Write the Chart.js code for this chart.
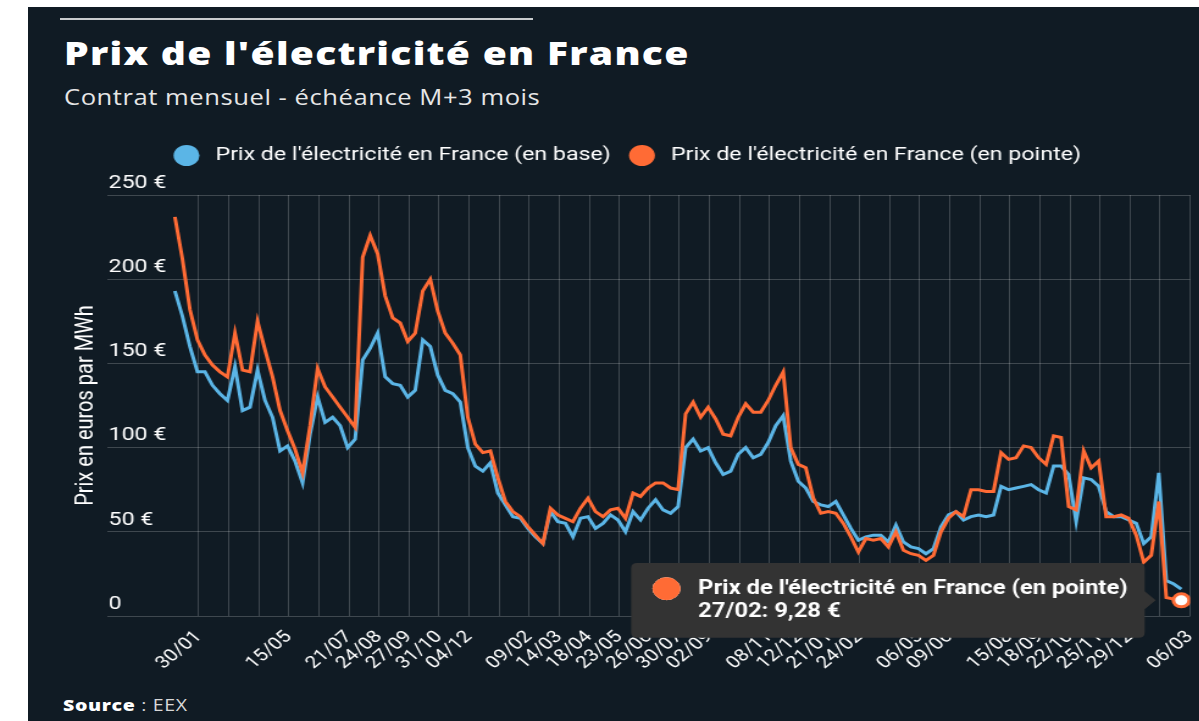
<!DOCTYPE html>
<html>
<head>
<meta charset="utf-8">
<script src="https://cdn.jsdelivr.net/npm/chart.js@4.4.1/dist/chart.umd.min.js"></script>
<style>
  html, body { margin: 0; padding: 0; width: 1199px; height: 721px; overflow: hidden; background: #fff; }
  .panel { position: absolute; left: 28px; top: 7px; width: 1171px; height: 714px; background: #101b24; }
  .rule { position: absolute; left: 60px; top: 18px; width: 473px; height: 2px; background: #c9ccce; }
  /* the original artwork is stretched sideways, so every text block gets the same stretch */
  .wide { transform: scaleX(1.22); transform-origin: 0 0; }
  .title { position: absolute; left: 64px; top: 37px; font: 800 32px 'Open Sans'; line-height: 1; color: #fff; white-space: nowrap; }
  .subtitle { position: absolute; left: 64px; top: 87px; font: 400 21px 'Open Sans'; line-height: 1; color: #e6e6e6; white-space: nowrap; }
  .source { position: absolute; left: 63px; top: 697px; font: 400 16px 'Open Sans'; line-height: 1; color: #d8d8d8; white-space: nowrap; }
  .source b { color: #fff; font-weight: 800; }
  .wrap { position: absolute; left: 28px; top: 124px; width: 960px; height: 566px; }
</style>
</head>
<body>
<div class="panel"></div>
<div class="rule"></div>
<div class="title wide" id="title">Prix de l'électricité en France</div>
<div class="subtitle wide" id="subtitle">Contrat mensuel - échéance M+3 mois</div>
<div class="source wide" id="source"><b>Source</b> : EEX</div>
<div class="wrap wide"><canvas id="chart" width="960" height="566"></canvas></div>
<script>
const STRETCH = 1.22;

// x axis: trading days counted from the first labelled tick, one gridline every 24 days
const TICK_DAYS = 24;
const tickLabels = ['30/01', '', '', '15/05', '', '21/07', '24/08', '27/09', '31/10', '04/12', '',
  '09/02', '14/03', '18/04', '23/05', '26/06', '30/07', '02/09', '', '08/11', '12/12',
  '21/01', '24/02', '', '06/05', '09/06', '', '15/08', '18/09', '22/10', '25/11', '29/12', '', '06/03'];

// one reading every 6 trading days, first one 19 days before the first tick
const FIRST_DAY = -19;
const STEP_DAYS = 6;
const lastDate = '27/02';

const base = [193, 178, 160, 145, 145, 137, 132, 128, 148, 122,
  124, 146, 128, 118, 98, 101, 92, 79, 108, 130,
  115, 118, 113, 100, 105, 152, 159, 168, 142, 138,
  137, 130, 134, 164, 160, 143, 134, 132, 127, 100,
  89, 86, 91, 73, 66, 59, 58, 52, 47, 43,
  62, 56, 55, 47, 58, 59, 52, 55, 60, 57,
  50, 62, 57, 64, 69, 63, 61, 65, 100, 105,
  98, 100, 91, 84, 86, 96, 100, 94, 96, 103,
  113, 119, 92, 80, 76, 68, 66, 65, 68, 60,
  52, 45, 47, 48, 48, 44, 54, 44, 41, 40,
  37, 40, 53, 60, 62, 57, 59, 60, 59, 60,
  77, 75, 76, 77, 78, 75, 73, 89, 89, 84,
  56, 82, 81, 77, 62, 59, 59, 57, 55, 43,
  47, 85, 21, 19, 16];

const pointe = [237, 212, 182, 164, 155, 149, 145, 142, 168, 146,
  145, 175, 158, 142, 122, 110, 99, 85, 113, 147,
  136, 130, 124, 118, 112, 213, 226, 215, 190, 177,
  174, 163, 168, 193, 200, 181, 168, 162, 155, 118,
  102, 97, 98, 82, 68, 62, 59, 53, 48, 43,
  64, 60, 58, 56, 64, 70, 62, 59, 63, 64,
  58, 73, 71, 76, 79, 79, 76, 75, 120, 127,
  118, 124, 117, 108, 107, 118, 126, 121, 121, 128,
  137, 145, 100, 90, 88, 70, 61, 62, 61, 55,
  47, 38, 46, 45, 46, 41, 50, 39, 37, 36,
  33, 36, 50, 58, 62, 59, 75, 75, 74, 74,
  97, 93, 94, 101, 100, 94, 90, 107, 106, 65,
  63, 98, 88, 92, 59, 59, 60, 58, 48, 32,
  36, 68, 11, 10, 9.28];

const BLUE = '#5bb5e6';
const ORANGE = '#ff6b35';
const GRID = 'rgba(255,255,255,0.2)';

const toPoints = arr => arr.map((v, i) => ({ x: FIRST_DAY + i * STEP_DAYS, y: v }));
const euro = v => v.toLocaleString('fr-FR') + ' €';

// fit the html headings to the width they have in the original (after the stretch)
function fitWidth(id, target) {
  const el = document.getElementById(id);
  const w = el.offsetWidth;
  el.style.letterSpacing = ((target / STRETCH - w) / el.textContent.length) + 'px';
}
fitWidth('title', 625);
fitWidth('subtitle', 476);
fitWidth('source', 125);

const legendGap = {
  id: 'legendGap',
  beforeInit(chart) {
    const fit = chart.legend.fit;
    chart.legend.fit = function () {
      fit.call(this);
      this.height += 20;
    };
  }
};

const chart = new Chart(document.getElementById('chart'), {
  type: 'line',
  data: {
    datasets: [{
      label: "Prix de l'électricité en France (en base)",
      data: toPoints(base),
      borderColor: BLUE,
      backgroundColor: BLUE,
      borderWidth: 3,
      pointRadius: 0,
      order: 1
    }, {
      label: "Prix de l'électricité en France (en pointe)",
      data: toPoints(pointe),
      borderColor: ORANGE,
      backgroundColor: ORANGE,
      borderWidth: 3,
      pointRadius: 0,
      pointHoverRadius: 6.5,
      pointHoverBorderWidth: 3,
      pointHoverBackgroundColor: '#fff',
      pointHoverBorderColor: ORANGE,
      order: 0
    }]
  },
  options: {
    responsive: false,
    animation: false,
    events: [],
    layout: { padding: { left: 31, right: 7.5, top: 6, bottom: 0 } },
    scales: {
      x: {
        type: 'linear',
        min: -73,
        max: 792,
        afterBuildTicks: s => { s.ticks = tickLabels.map((t, k) => ({ value: k * TICK_DAYS })); },
        afterFit: s => { s.height = 74; s.paddingLeft = 0; s.paddingRight = 0; },
        ticks: {
          autoSkip: false,
          minRotation: 45,
          maxRotation: 45,
          padding: 11,
          color: '#fff',
          font: { family: 'Roboto', size: 17 },
          callback: (v, i) => tickLabels[i]
        },
        grid: { color: GRID, drawTicks: false },
        border: { display: false }
      },
      y: {
        min: 0,
        max: 250,
        afterFit: s => { s.width = 34; s.paddingTop = 0; s.paddingBottom = 0; },
        ticks: {
          stepSize: 50,
          mirror: true,
          padding: 1,
          labelOffset: -12,
          color: '#fff',
          font: { family: 'Roboto', size: 19 },
          callback: v => v === 0 ? '0' : v + ' €'
        },
        grid: { color: GRID, drawTicks: false },
        border: { display: false },
        title: {
          display: true,
          text: 'Prix en euros par MWh',
          color: '#fff',
          font: { family: 'Roboto', size: 20 },
          padding: { top: 4.5, bottom: 0 }
        }
      }
    },
    plugins: {
      legend: {
        position: 'top',
        labels: {
          usePointStyle: true,
          pointStyle: 'circle',
          boxHeight: 15,
          padding: 16,
          color: '#fff',
          font: { family: 'Roboto', size: 19 },
          sort: (a, b) => a.datasetIndex - b.datasetIndex,
          generateLabels: c => Chart.defaults.plugins.legend.labels.generateLabels(c)
            .map(l => Object.assign(l, { text: ' ' + l.text, lineWidth: 0 }))
        }
      },
      tooltip: {
        backgroundColor: '#333',
        xAlign: 'right',
        yAlign: 'center',
        caretSize: 9,
        caretPadding: 21,
        cornerRadius: 5,
        padding: { left: 15, right: 14, top: 14, bottom: 14 },
        displayColors: true,
        usePointStyle: true,
        boxWidth: 28,
        boxHeight: 22,
        boxPadding: 10,
        bodySpacing: 0,
        bodyColor: '#fff',
        bodyFont: { family: 'Roboto', size: 19.5, weight: 'bold' },
        callbacks: {
          title: () => '',
          label: ctx => [ctx.dataset.label, lastDate + ': ' + euro(ctx.parsed.y)],
          labelColor: () => ({ borderColor: ORANGE, backgroundColor: ORANGE }),
          labelPointStyle: () => ({ pointStyle: 'circle', rotation: 0 })
        }
      }
    }
  },
  plugins: [legendGap]
});

// show the hovered last point of the peak series, as in the original
const active = [{ datasetIndex: 1, index: pointe.length - 1 }];
chart.setActiveElements(active);
chart.tooltip.setActiveElements(active, { x: 0, y: 0 });
chart.update();
</script>
</body>
</html>
